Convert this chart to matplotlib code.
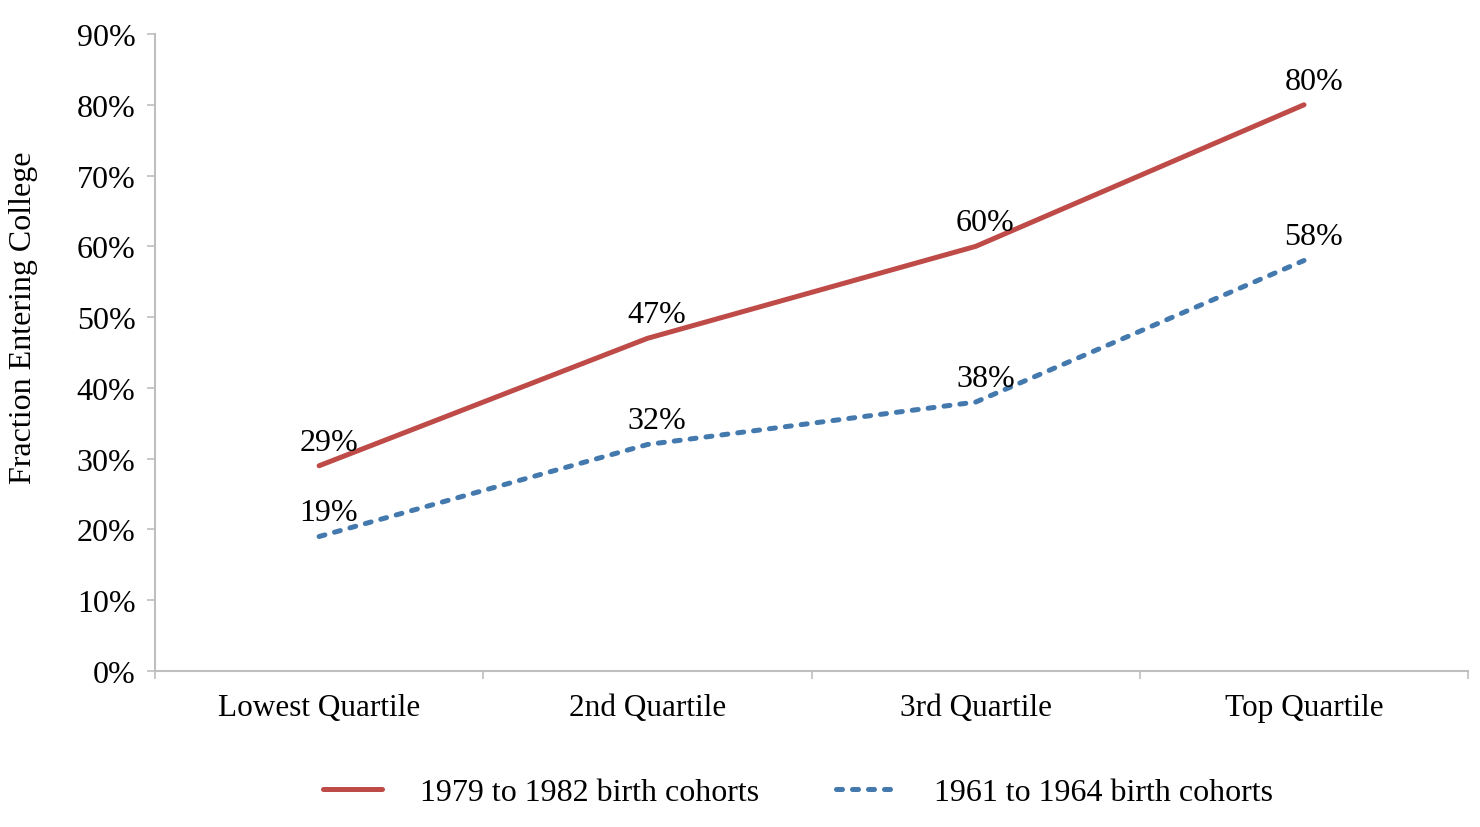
import matplotlib
matplotlib.use("Agg")
import matplotlib.pyplot as plt
import numpy as np

categories = ["Lowest Quartile", "2nd Quartile", "3rd Quartile", "Top Quartile"]
series_names = ["1979 to 1982 birth cohorts", "1961 to 1964 birth cohorts"]
recent = [0.29, 0.47, 0.60, 0.80]
earlier = [0.19, 0.32, 0.38, 0.58]
yticks = [0.0, 0.1, 0.2, 0.3, 0.4, 0.5, 0.6, 0.7, 0.8, 0.9]

plt.rcParams['font.family'] = ['Liberation Serif', 'DejaVu Serif']

fig = plt.figure(figsize=(14.8, 8.28), dpi=100)
ax = fig.add_axes([0.1047, 0.1884, 0.8873, 0.7693])

red = "#BE4B48"
blue = "#4479AE"
x = np.arange(len(categories))

l1, = ax.plot(x, recent, color=red, lw=3.6, solid_capstyle='round', label=series_names[0])
l2, = ax.plot(x, earlier, color=blue, lw=3.6, linestyle=(0, (1.2, 2.0)), dash_capstyle='round',
              label=series_names[1])

for vals in [recent, earlier]:
    for xi, v in zip(x, vals):
        ax.annotate(f"{int(round(v*100))}%", (xi, v), xytext=(7, 17), textcoords='offset points',
                    ha='center', va='center', fontsize=23, color='black')

ax.set_xlim(-0.5, 3.5)
ax.set_ylim(0, 0.9)
ax.set_yticks(yticks)
ax.set_yticklabels([f"{int(round(t*100))}%" for t in yticks], fontsize=23)
ax.set_xticks(x)
ax.set_xticklabels(categories, fontsize=22.5)
ax.tick_params(axis='x', which='major', length=0, pad=16)
ax.set_xticks([-0.5, 0.5, 1.5, 2.5, 3.5], minor=True)
ax.tick_params(axis='x', which='minor', length=6, color='#BFBFBF', width=1.2)
ax.tick_params(axis='y', length=6, color='#BFBFBF', width=1.2, pad=8)

for s in ['top', 'right']:
    ax.spines[s].set_visible(False)
for s in ['left', 'bottom']:
    ax.spines[s].set_color('#BFBFBF')
    ax.spines[s].set_linewidth(1.5)

fig.text(0.016, 0.6159, "Fraction Entering College", rotation=90, ha='center', va='center', fontsize=23)

leg = fig.legend(handles=[l1, l2], loc='center', bbox_to_anchor=(0.539, 0.042), ncol=2, frameon=False,
                 fontsize=23, handlelength=1.85, handletextpad=1.2, columnspacing=2.4)

fig.savefig("out.png", dpi=100)
